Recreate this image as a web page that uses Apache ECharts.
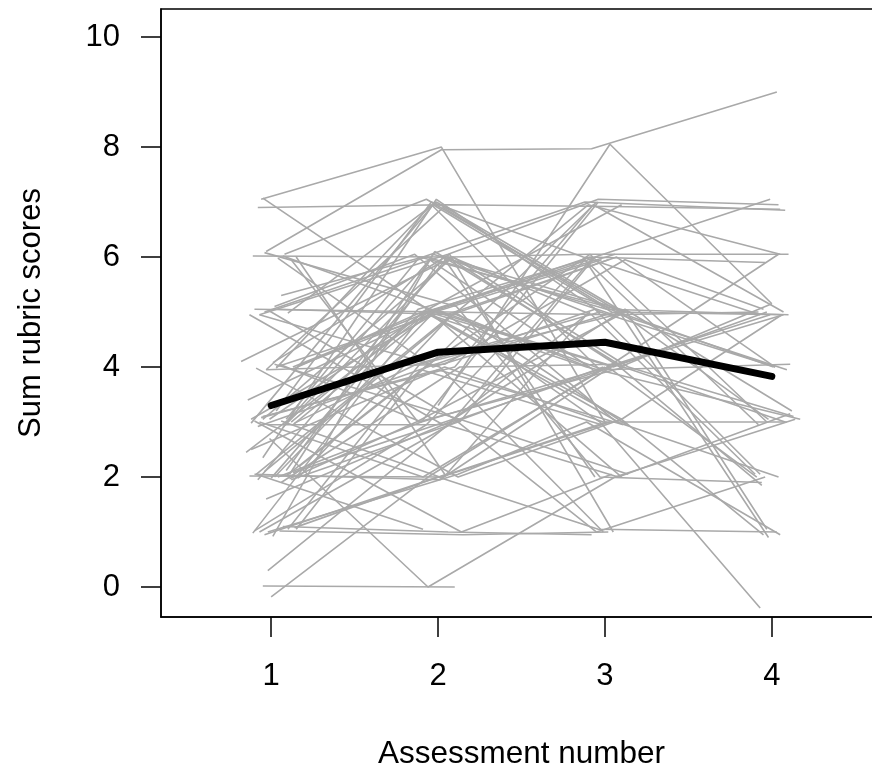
<!DOCTYPE html>
<html>
<head>
<meta charset="utf-8">
<script src="https://cdn.jsdelivr.net/npm/echarts@6/dist/echarts.min.js"></script>
<style>
  html, body { margin: 0; padding: 0; background: #fff; }
  #chart { width: 872px; height: 766px; }
</style>
</head>
<body>
<div id="chart"></div>
<script>
// Assessment positions and axis ticks
const assessments = [1, 2, 3, 4];
const yTicks = [0, 2, 4, 6, 8, 10];
// Mean sum rubric score per assessment (thick black line)
const meanScores = [3.30, 4.27, 4.45, 3.83];

// Jittered positions (x) and jittered scores (y) per student, by assessment; null = not assessed
const xAt1 = [0.94,0.97,0.92,0.95,1.08,0.89,1.12,0.96,1.04,1.15,
              1.06,0.90,1.10,0.99,1.02,0.93,0.82,1.13,0.97,1.05,
              0.91,1.16,1.01,0.86,1.09,0.95,1.12,0.98,1.03,0.90,
              1.14,0.94,1.07,0.99,0.88,1.11,0.96,1.04,0.92,1.17,
              0.87,1.00,1.13,0.95,1.06,0.91,1.09,1.02,0.97,0.85,
              0.93,1.10,0.96,1.05,0.89,1.14,1.01,0.98,0.95,1.00,
              0.99,1.07,0.93,null,1.03,0.88,1.12,0.96,
              1.08,0.91,1.15,0.97,1.04,0.88,1.11,0.93,1.06,0.90,1.02,1.13,
              0.95,1.09,0.87,1.03,1.16,0.92,1.07,0.98,1.12,0.90];
const scoreAt1 = [7.05,6.10,6.90,7.07,6.05,6.02,5.95,6.08,5.98,6.00,
                  5.30,5.05,4.98,5.02,5.10,4.95,4.10,4.00,3.95,4.05,
                  3.98,4.02,4.08,3.40,3.05,3.10,3.00,2.95,3.20,3.02,
                  2.98,3.08,2.90,3.05,2.50,2.05,2.10,2.00,1.95,2.20,
                  2.02,1.98,2.08,2.35,1.90,2.05,2.12,2.00,1.60,2.45,
                  1.00,1.05,0.95,1.02,0.98,1.08,0.92,0.30,0.02,-0.18,
                  2.70,1.10,3.00,null,4.00,3.05,1.95,5.00,
                  2.95,2.05,1.05,3.95,5.05,2.98,1.97,4.95,3.02,1.02,4.05,2.95,
                  3.05,2.02,4.95,3.98,1.98,2.92,6.02,1.00,3.95,2.05];

const xAt2 = [2.02,2.02,2.05,1.96,1.93,2.08,1.88,2.11,1.97,2.04,
              1.91,2.06,1.99,2.13,1.86,2.01,2.09,1.94,2.03,1.90,
              2.12,1.95,2.07,1.98,1.89,2.10,1.93,2.05,1.96,2.14,
              1.87,2.00,2.08,1.92,2.04,1.97,2.11,1.90,2.06,1.95,
              2.02,1.88,2.09,1.99,2.13,1.91,2.03,1.96,2.07,1.94,
              2.10,1.89,2.00,2.15,1.92,2.05,1.98,2.08,2.10,1.94,
              1.94,2.06,1.91,2.00,2.03,1.97,2.12,1.93,
              1.95,2.08,1.90,2.04,2.11,1.97,1.87,2.06,2.01,1.93,2.13,1.98,
              2.07,1.92,2.03,1.96,2.10,1.89,2.05,2.12,1.94,2.01];
const scoreAt2 = [8.00,7.95,6.95,5.00,7.05,6.00,3.00,5.10,4.00,2.05,
                  6.00,5.00,7.00,3.00,6.05,4.00,6.00,5.00,6.90,3.00,
                  2.00,4.95,6.05,5.00,6.00,4.00,5.05,2.95,7.00,1.00,
                  4.05,3.95,6.00,5.00,4.00,6.05,5.00,3.00,6.00,4.05,
                  2.00,5.05,3.05,7.05,4.00,1.05,6.00,4.95,3.00,5.00,
                  3.00,4.05,2.00,0.95,5.00,2.05,6.10,3.00,0.00,2.00,
                  0.00,1.00,2.00,3.30,5.00,4.95,3.00,6.00,
                  5.95,4.95,3.95,4.05,4.95,6.95,3.00,6.05,2.00,2.95,3.05,5.05,
                  5.95,4.00,2.95,6.95,5.00,3.95,4.95,2.05,5.05,1.95];

const xAt3 = [3.00,2.92,3.04,2.95,3.09,2.90,3.12,2.97,3.06,null,
              2.88,3.02,3.11,2.94,3.07,2.99,3.14,2.91,3.03,2.96,
              3.10,2.89,3.05,2.98,3.13,2.93,3.01,3.08,2.87,3.04,
              2.97,3.11,2.92,3.06,2.99,3.15,2.90,3.02,3.09,2.95,
              3.03,2.88,3.12,2.97,3.07,null,2.94,3.10,2.91,3.05,
              2.99,3.13,2.96,3.02,3.08,2.89,3.11,2.93,null,3.00,
              3.06,2.92,3.04,3.03,2.97,3.10,2.95,3.01,
              2.93,3.07,2.98,3.12,2.90,3.04,3.09,2.96,3.01,2.88,3.14,2.99,
              3.05,2.91,3.08,2.97,3.13,2.94,3.02,2.89,3.10,3.06];
const scoreAt3 = [3.00,7.97,6.92,6.00,5.00,6.05,4.00,2.00,5.00,null,
                  7.00,4.95,5.00,6.00,3.00,1.00,4.00,6.00,5.05,7.00,
                  3.05,4.00,1.00,5.95,5.00,6.95,4.05,2.00,6.00,2.05,
                  5.00,2.95,4.95,6.05,3.00,5.00,6.95,4.00,4.00,7.00,
                  3.00,5.95,5.05,5.00,4.05,null,2.00,3.05,5.00,4.00,
                  4.00,5.00,1.05,1.00,3.00,4.95,4.00,6.00,null,4.00,
                  2.00,0.95,4.05,8.05,3.00,2.00,1.00,5.05,
                  3.95,6.00,2.95,5.95,4.00,5.00,4.95,7.05,3.00,5.95,2.05,3.95,
                  4.95,6.05,4.05,3.95,2.95,5.05,5.95,3.00,6.95,4.05];

const xAt4 = [null,4.03,4.05,null,3.98,4.10,null,3.94,4.06,null,
              4.08,3.92,null,3.99,4.04,null,4.13,3.96,4.01,null,
              3.95,4.17,null,null,3.97,4.07,null,4.11,3.93,null,
              4.02,null,3.90,null,4.09,null,4.05,3.91,4.00,null,
              null,3.98,4.12,null,3.94,null,null,4.06,null,3.97,
              null,null,4.03,null,null,null,4.08,null,null,null,
              4.14,null,4.04,4.00,3.93,null,3.96,4.10,
              null,4.02,null,3.95,null,4.09,null,4.04,null,3.92,null,4.11,
              null,3.97,null,4.07,null,3.93,null,4.05,null,3.99];
const scoreAt4 = [null,9.00,6.87,null,3.05,6.05,null,1.90,4.95,null,
                  6.85,5.00,null,7.05,2.00,null,3.10,5.90,4.00,null,
                  0.95,3.05,null,null,1.05,5.00,null,3.15,4.95,null,
                  4.00,null,2.05,null,3.00,null,6.05,2.00,5.15,null,
                  null,0.90,3.20,null,1.85,null,null,4.95,null,5.00,
                  null,null,1.00,null,null,null,3.00,null,null,null,
                  3.05,null,6.05,5.15,-0.38,null,2.00,4.95,
                  null,4.00,null,5.05,null,3.95,null,6.95,null,2.95,null,4.05,
                  null,3.00,null,4.95,null,2.05,null,0.95,null,4.95];

const columns = [[xAt1, scoreAt1], [xAt2, scoreAt2], [xAt3, scoreAt3], [xAt4, scoreAt4]];
const series = [];
for (let i = 0; i < scoreAt2.length; i++) {
  const pts = [];
  columns.forEach(([xs, ys]) => { if (ys[i] != null) pts.push([xs[i], ys[i]]); });
  series.push({
    type: 'line', data: pts, symbol: 'none', silent: true, z: 2,
    lineStyle: { color: '#a9a9a9', width: 1.6 }
  });
}
series.push({
  type: 'line', data: assessments.map((a, i) => [a, meanScores[i]]),
  symbol: 'none', silent: true, z: 5,
  lineStyle: { color: '#000', width: 7, cap: 'round', join: 'round' }
});

const font = 'Liberation Sans, Arial, Helvetica, sans-serif';
const chart = echarts.init(document.getElementById('chart'), null, { renderer: 'canvas' });
chart.setOption({
  animation: false,
  backgroundColor: '#fff',
  grid: { left: 161, top: 9, width: 721, height: 608, outerBoundsMode: 'none', containLabel: false,
          show: true, borderColor: '#000', borderWidth: 1.5, backgroundColor: 'transparent' },
  xAxis: {
    type: 'value', min: 0.34, max: 4.66,
    name: 'Assessment number', nameLocation: 'middle', nameGap: 121,
    nameTextStyle: { fontSize: 31.5, color: '#000', fontFamily: font },
    axisLine: { show: true, onZero: false, lineStyle: { color: '#000', width: 1.5 } },
    axisTick: { show: true, inside: false, length: 20, customValues: assessments, lineStyle: { color: '#000', width: 1.5 } },
    axisLabel: { customValues: assessments, margin: 44, fontSize: 31, color: '#000', fontFamily: font },
    splitLine: { show: false }
  },
  yAxis: {
    type: 'value', min: -0.545, max: 10.51,
    name: 'Sum rubric scores', nameLocation: 'middle', nameGap: 114, nameRotate: 90,
    nameTextStyle: { fontSize: 31, color: '#000', fontFamily: font },
    axisLine: { show: true, onZero: false, lineStyle: { color: '#000', width: 1.5 } },
    axisTick: { show: true, inside: false, length: 20, customValues: yTicks, lineStyle: { color: '#000', width: 1.5 } },
    axisLabel: { customValues: yTicks, margin: 41, fontSize: 31, color: '#000', fontFamily: font },
    splitLine: { show: false }
  },
  series: series
});
</script>
</body>
</html>
